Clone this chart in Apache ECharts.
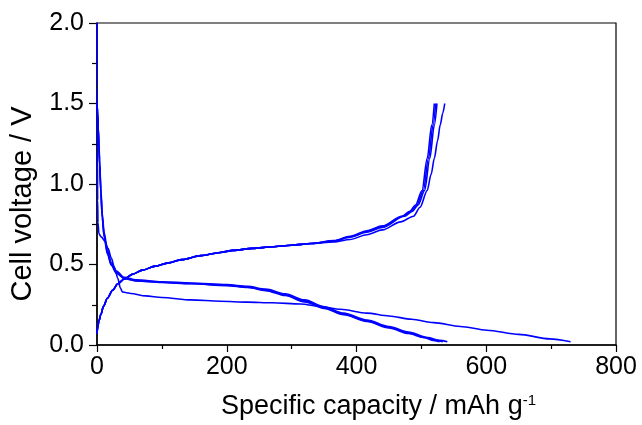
<!DOCTYPE html>
<html><head><meta charset="utf-8">
<script src="https://cdn.jsdelivr.net/npm/echarts@6/dist/echarts.min.js"></script>
<style>html,body{margin:0;padding:0;background:#fff}#c{width:642px;height:425px}</style>
</head><body><div id="c"></div>
<script>
// Tick labels
const xTickLabels = ['0', '200', '400', '600', '800'];
const yTickLabels = ['0.0', '0.5', '1.0', '1.5', '2.0'];

// Cycle 1 discharge
const d1X = [0, 0.3, 0.6, 1, 1.5, 3, 7, 12, 17, 22, 27, 32, 36, 39, 45, 52, 75, 100, 145, 190, 232, 270, 314, 345, 375, 416, 450, 485, 519, 560, 601, 650, 698, 730];
const d1Y = [2.0, 1.6, 1.2, 0.9, 0.76, 0.69, 0.67, 0.645, 0.6, 0.54, 0.48, 0.415, 0.355, 0.33, 0.325, 0.32, 0.305, 0.295, 0.28, 0.272, 0.266, 0.262, 0.255, 0.238, 0.222, 0.198, 0.18, 0.16, 0.139, 0.115, 0.092, 0.066, 0.038, 0.02];
// Cycle 1 charge
const c1X = [0, 1, 3, 6, 10, 16, 24, 32, 42, 55, 70, 90, 110, 130, 160, 190, 210, 240, 270, 300, 330, 365, 390, 416, 440, 468, 488, 498, 509, 515, 520, 525, 529, 533, 536];
const c1Y = [0.07, 0.11, 0.15, 0.19, 0.24, 0.29, 0.34, 0.38, 0.41, 0.44, 0.465, 0.49, 0.51, 0.53, 0.555, 0.575, 0.588, 0.6, 0.61, 0.62, 0.63, 0.64, 0.655, 0.685, 0.715, 0.765, 0.80, 0.856, 0.96, 1.06, 1.16, 1.27, 1.366, 1.44, 1.5];
// Cycle 2
const d2X = [0, 1, 2, 3, 4, 6, 8, 11, 16, 22, 30, 42, 60, 100, 145, 200, 232, 260, 290, 320, 350, 380, 416, 450, 480, 510, 528, 540];
const d2Y = [1.5, 1.45, 1.35, 1.25, 1.15, 0.97, 0.82, 0.70, 0.59, 0.51, 0.46, 0.42, 0.405, 0.393, 0.385, 0.375, 0.365, 0.347, 0.318, 0.28, 0.238, 0.198, 0.155, 0.115, 0.08, 0.047, 0.029, 0.02];
const c2X = [0, 1, 3, 6, 10, 16, 24, 32, 42, 55, 70, 90, 110, 130, 160, 190, 210, 240, 270, 300, 330, 365, 390, 416, 440, 470, 482, 491, 501, 509, 516, 520];
const c2Y = [0.07, 0.11, 0.15, 0.19, 0.24, 0.29, 0.34, 0.38, 0.41, 0.44, 0.465, 0.49, 0.51, 0.53, 0.555, 0.575, 0.588, 0.6, 0.61, 0.62, 0.63, 0.648, 0.675, 0.71, 0.74, 0.80, 0.83, 0.87, 0.96, 1.16, 1.366, 1.5];
// Cycle 3
const d3X = [0, 1, 2, 3, 4, 6, 8, 11, 16, 22, 30, 42, 60, 100, 145, 200, 232, 260, 290, 320, 350, 380, 416, 450, 480, 505, 522, 533];
const d3Y = [1.5, 1.44, 1.34, 1.23, 1.13, 0.95, 0.80, 0.68, 0.575, 0.5, 0.45, 0.415, 0.4, 0.39, 0.382, 0.371, 0.36, 0.342, 0.312, 0.274, 0.232, 0.193, 0.15, 0.11, 0.075, 0.047, 0.029, 0.02];
const c3X = [0, 1, 3, 6, 10, 16, 24, 32, 42, 55, 70, 90, 110, 130, 160, 190, 210, 240, 270, 300, 330, 365, 390, 416, 440, 472, 484, 493, 503, 511, 518, 522];
const c3Y = [0.07, 0.11, 0.15, 0.19, 0.24, 0.29, 0.34, 0.38, 0.41, 0.44, 0.465, 0.49, 0.51, 0.53, 0.555, 0.575, 0.588, 0.6, 0.61, 0.62, 0.63, 0.646, 0.672, 0.705, 0.735, 0.80, 0.83, 0.87, 0.96, 1.16, 1.366, 1.5];
// Cycle 4
const d4X = [0, 1, 2, 3, 4, 6, 8, 11, 16, 22, 30, 42, 60, 100, 145, 200, 232, 260, 290, 320, 350, 380, 416, 450, 480, 503, 518, 528];
const d4Y = [1.5, 1.43, 1.33, 1.22, 1.12, 0.94, 0.79, 0.67, 0.565, 0.495, 0.445, 0.412, 0.398, 0.388, 0.38, 0.369, 0.357, 0.338, 0.307, 0.268, 0.227, 0.188, 0.146, 0.106, 0.071, 0.047, 0.029, 0.02];
const c4X = [0, 1, 3, 6, 10, 16, 24, 32, 42, 55, 70, 90, 110, 130, 160, 190, 210, 240, 270, 300, 330, 365, 390, 416, 440, 474, 486, 495, 505, 513, 520, 524];
const c4Y = [0.07, 0.11, 0.15, 0.19, 0.24, 0.29, 0.34, 0.38, 0.41, 0.44, 0.465, 0.49, 0.51, 0.53, 0.555, 0.575, 0.588, 0.6, 0.61, 0.62, 0.63, 0.645, 0.67, 0.70, 0.73, 0.80, 0.83, 0.87, 0.96, 1.16, 1.366, 1.5];

const curves = [[d1X, d1Y], [c1X, c1Y], [d2X, d2Y], [c2X, c2Y], [d3X, d3Y], [c3X, c3Y], [d4X, d4Y], [c4X, c4Y]];

function zip(xs, ys) { return xs.map((x, i) => [x, ys[i]]); }

const FONT = 'Liberation Sans, Arial, sans-serif';
const chart = echarts.init(document.getElementById('c'), null, {renderer: 'canvas'});
chart.setOption({
  animation: false,
  backgroundColor: '#fff',
  grid: {left: 96, right: 26, top: 23, bottom: 75, show: true, borderColor: '#000', borderWidth: 1.2, containLabel: false},
  xAxis: {
    type: 'value', min: 0, max: 800, interval: 200,
    name: 'Specific capacity / mAh g{sup|-1}', nameLocation: 'middle', nameGap: 48,
    nameTextStyle: {fontFamily: FONT, fontSize: 27, color: '#000', padding: [0, 0, 0, 44],
      rich: {sup: {fontFamily: FONT, fontSize: 15, verticalAlign: 'top', padding: [0, 0, 12, 0], color: '#000'}}},
    axisLine: {show: true, lineStyle: {color: '#000', width: 1.5}},
    axisTick: {show: true, inside: false, length: 7, lineStyle: {color: '#000', width: 1.2}},
    minorTick: {show: true, splitNumber: 2, length: 4, lineStyle: {color: '#000', width: 1.2}},
    axisLabel: {fontFamily: FONT, fontSize: 25, color: '#000', margin: 10,
      formatter: v => xTickLabels[Math.round(v / 200)]},
    splitLine: {show: false}
  },
  yAxis: {
    type: 'value', min: 0, max: 2, interval: 0.5,
    name: 'Cell voltage / V', nameLocation: 'middle', nameGap: 60, nameRotate: 90,
    nameTextStyle: {fontFamily: FONT, fontSize: 29, color: '#000', padding: [0, 40, 0, 0]},
    axisLine: {show: true, lineStyle: {color: '#000', width: 1.5}},
    axisTick: {show: true, inside: false, length: 8, lineStyle: {color: '#000', width: 1.2}},
    minorTick: {show: true, splitNumber: 2, length: 5, lineStyle: {color: '#000', width: 1.2}},
    axisLabel: {fontFamily: FONT, fontSize: 25, color: '#000', margin: 13,
      formatter: v => yTickLabels[Math.round(v / 0.5)]},
    splitLine: {show: false}
  },
  series: curves.map(c => ({
    type: 'line', data: zip(c[0], c[1]), showSymbol: false, smooth: 0.3, smoothMonotone: 'x',
    lineStyle: {color: '#0000ff', width: 1.6}, clip: true
  }))
});
</script>
</body></html>
